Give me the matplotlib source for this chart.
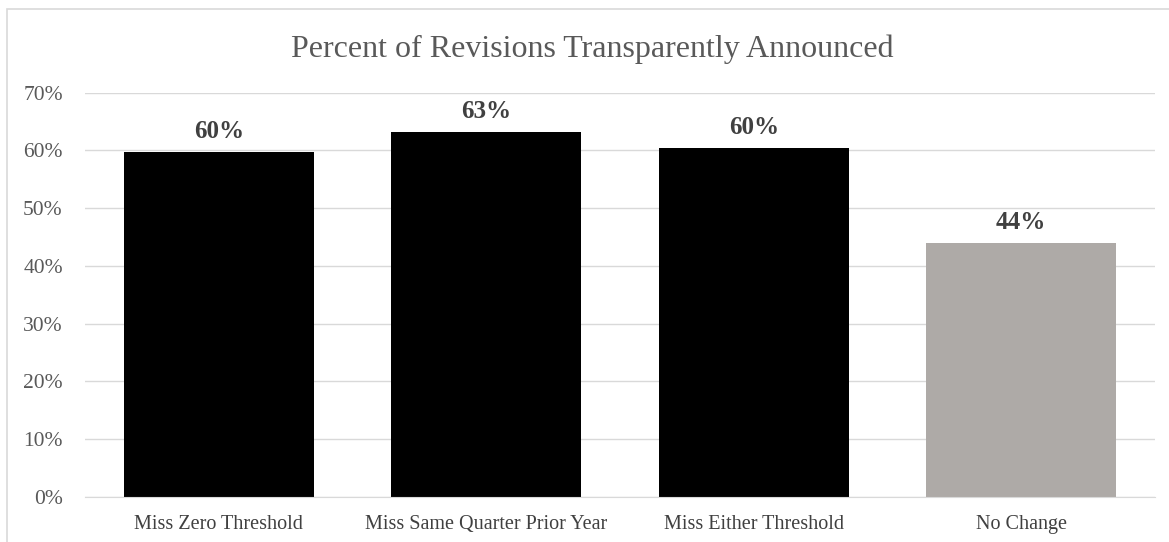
import matplotlib.pyplot as plt
from matplotlib.patches import Rectangle

categories = ['Miss Zero Threshold', 'Miss Same Quarter Prior Year',
              'Miss Either Threshold', 'No Change']
values = [59.7, 63.2, 60.4, 44.0]
value_labels = ['60%', '63%', '60%', '44%']
bar_colors = ['#000000', '#000000', '#000000', '#aeaaa7']
yticks = [0, 10, 20, 30, 40, 50, 60, 70]

plt.rcParams['font.family'] = ['Liberation Serif', 'DejaVu Serif']

fig = plt.figure(figsize=(11.69, 5.42), dpi=100)
ax = fig.add_axes([0.0727, 0.0836, 0.9153, 0.7454])

# light frame around the chart (cropped on right and bottom)
fig.patches.append(Rectangle((7 / 1169, -0.05), 1.2, 1 - 9 / 542 + 0.05,
                             transform=fig.transFigure, fill=False,
                             edgecolor='#d9d9d9', linewidth=1.2))

x = range(len(categories))
ax.bar(x, values, width=0.71, color=bar_colors, zorder=2)

for xi, v, lab in zip(x, values, value_labels):
    ax.text(xi, v + 1.5, lab, ha='center', va='bottom', fontsize=18,
            fontweight='bold', color='#404040')

ax.set_xlim(-0.5, len(categories) - 0.5)
ax.set_ylim(0, 70)
ax.set_yticks(yticks)
ax.set_yticklabels([f'{t}%' for t in yticks], fontsize=15.5, color='#595959')
ax.set_xticks(list(x))
ax.set_xticklabels(categories, fontsize=14.5, color='#404040')
ax.tick_params(axis='x', length=0, pad=13)
ax.tick_params(axis='y', length=0, pad=16)

ax.grid(axis='y', color='#d9d9d9', linewidth=1, zorder=0)
for s in ['top', 'right', 'left']:
    ax.spines[s].set_visible(False)
ax.spines['bottom'].set_color('#d9d9d9')
ax.set_axisbelow(True)

fig.text(0.507, 1 - 49 / 542, 'Percent of Revisions Transparently Announced',
         ha='center', va='center', fontsize=23, color='#595959')

fig.savefig('out.png', dpi=100, facecolor='white')
